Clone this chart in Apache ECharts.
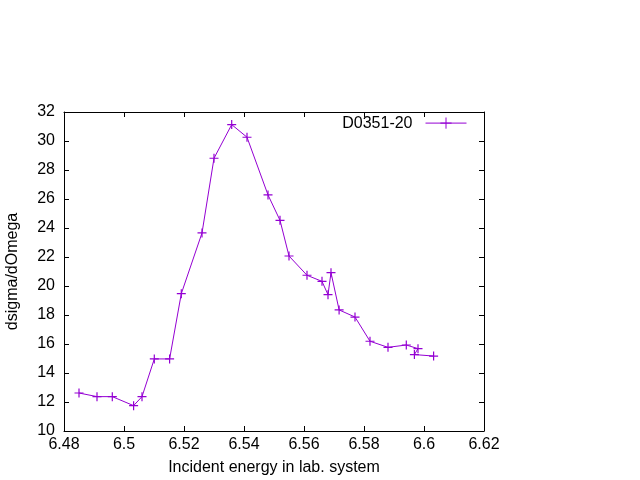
<!DOCTYPE html>
<html>
<head>
<meta charset="utf-8">
<script src="https://cdn.jsdelivr.net/npm/echarts@6/dist/echarts.min.js"></script>
<style>html,body{margin:0;padding:0;background:#fff}#c{width:640px;height:480px}</style>
</head>
<body>
<div id="c"></div>
<script>
var seriesName = 'D0351-20';
var energy = [6.485, 6.491, 6.4961, 6.5032, 6.506, 6.5101, 6.5152, 6.5191, 6.526, 6.530, 6.5359, 6.541, 6.548, 6.552, 6.555, 6.561, 6.566, 6.568, 6.569, 6.5717, 6.577, 6.582, 6.588, 6.5941, 6.598, 6.5968, 6.6032];
var dsigma = [12.62, 12.37, 12.37, 11.75, 12.37, 14.97, 14.97, 19.47, 23.66, 28.81, 31.13, 30.26, 26.28, 24.53, 22.07, 20.74, 20.32, 19.4, 20.92, 18.35, 17.86, 16.19, 15.77, 15.93, 15.68, 15.27, 15.17];
var xTicks = {min: 6.48, max: 6.62, interval: 0.02};
var yTicks = {min: 10, max: 32, interval: 2};
var xName = 'Incident energy in lab. system';
var yName = 'dsigma/dOmega';

var color = '#9400D3';
var font = 'Liberation Sans, Arial, sans-serif';
var fs = 16;
var points = energy.map(function (e, i) { return [e, dsigma[i]]; });

function axisBase(extra) {
  var a = {
    type: 'value',
    axisLine: {show: true, onZero: false, lineStyle: {color: '#000', width: 1}},
    axisTick: {show: true, inside: true, length: 5, lineStyle: {color: '#000'}},
    splitLine: {show: false},
    axisLabel: {show: true, color: '#000', fontFamily: font, fontSize: fs}
  };
  for (var k in extra) a[k] = extra[k];
  return a;
}

var chart = echarts.init(document.getElementById('c'), null, {renderer: 'canvas'});
chart.setOption({
  animation: false,
  backgroundColor: '#fff',
  grid: {left: 64, right: 156, top: 112, bottom: 49, containLabel: false, outerBoundsMode: 'none'},
  legend: {
    show: true,
    right: 168,
    top: 110,
    align: 'right',
    itemWidth: 41,
    itemHeight: 14,
    lineStyle: {width: 1},
    itemStyle: {borderWidth: 1},
    textStyle: {fontFamily: font, fontSize: fs, color: '#000', padding: [0, 8, 0, 0]},
    data: [{name: seriesName}]
  },
  xAxis: [
    axisBase({min: xTicks.min, max: xTicks.max, interval: xTicks.interval, position: 'bottom',
      name: xName, nameLocation: 'middle', nameGap: 29,
      nameTextStyle: {fontFamily: font, fontSize: fs, color: '#000'},
      axisLabel: {show: true, color: '#000', fontFamily: font, fontSize: fs, margin: 6,
        formatter: function (v) { return String(parseFloat(v.toFixed(4))); }}}),
    axisBase({min: xTicks.min, max: xTicks.max, interval: xTicks.interval, position: 'top',
      axisLabel: {show: false}})
  ],
  yAxis: [
    axisBase({min: yTicks.min, max: yTicks.max, interval: yTicks.interval, position: 'left',
      name: yName, nameLocation: 'middle', nameGap: 43, nameRotate: 90,
      nameTextStyle: {fontFamily: font, fontSize: fs, color: '#000'},
      axisLabel: {show: true, color: '#000', fontFamily: font, fontSize: fs, margin: 9}}),
    axisBase({min: yTicks.min, max: yTicks.max, interval: yTicks.interval, position: 'right',
      axisLabel: {show: false}})
  ],
  series: [{
    name: seriesName,
    type: 'line',
    xAxisIndex: 0,
    yAxisIndex: 0,
    data: points,
    symbol: 'path://M0,5L10,5M5,0L5,10',
    symbolSize: 9,
    showAllSymbol: true,
    lineStyle: {color: color, width: 1},
    itemStyle: {color: 'none', borderColor: color, borderWidth: 1.2},
    emphasis: {disabled: true}
  }]
});
</script>
</body>
</html>
